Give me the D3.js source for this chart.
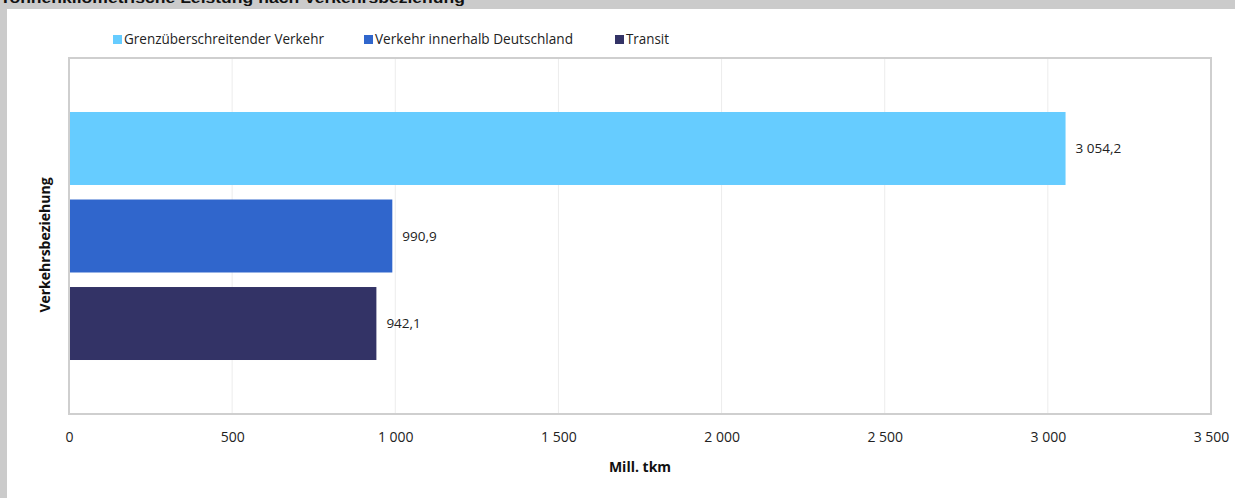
<!DOCTYPE html>
<html><head><meta charset="utf-8">
<script src="https://cdn.jsdelivr.net/npm/d3@7"></script>
<style>
html,body{margin:0;padding:0;background:#cbcbcb;}
svg{display:block;}
</style></head>
<body>
<svg id="chart" width="1235" height="498"></svg>
<script>
const title = "Tonnenkilometrische Leistung nach Verkehrsbeziehung";
const series = ["Grenzüberschreitender Verkehr", "Verkehr innerhalb Deutschland", "Transit"];
const values = [3054.2, 990.9, 942.1];
const colors = ["#66ccff", "#3066cc", "#333366"];
const xTicks = [0, 500, 1000, 1500, 2000, 2500, 3000, 3500];
const xTitle = "Mill. tkm";
const yTitle = "Verkehrsbeziehung";

const fmt = v => {
  const s = d3.format(",.1f")(v);
  return s.replace(/,/g, " ").replace(".", ",");
};
const fmtTick = v => d3.format(",")(v).replace(/,/g, " ");

const svg = d3.select("#chart");
const font = "'Open Sans', 'Noto Sans', sans-serif";

svg.append("rect").attr("x", 7).attr("y", 9).attr("width", 1228).attr("height", 489).attr("fill", "#fff");
svg.append("text").attr("x", 0).attr("y", 3).attr("font-family", "'Liberation Sans', Arial, sans-serif")
  .attr("font-weight", "bold").attr("font-size", 15).attr("fill", "#111")
  .attr("textLength", 465).attr("lengthAdjust", "spacingAndGlyphs").text(title);

const m = {l: 69, r: 1211, t: 58, b: 414};
const x = d3.scaleLinear().domain([0, 3500]).range([m.l, m.r]);
const y = d3.scaleBand().domain(series).range([m.t, m.b]).paddingInner(0.166).paddingOuter(0.617);

// gridlines
svg.append("g").selectAll("line").data(xTicks.slice(1, -1)).join("line")
  .attr("x1", d => x(d)).attr("x2", d => x(d)).attr("y1", m.t).attr("y2", m.b)
  .attr("stroke", "#ececec").attr("stroke-width", 1);

// bars
svg.append("g").selectAll("rect").data(series).join("rect")
  .attr("x", x(0)).attr("y", d => y(d)).attr("height", y.bandwidth())
  .attr("width", (d, i) => x(values[i]) - x(0)).attr("fill", (d, i) => colors[i]);

// plot frame
svg.append("rect").attr("x", m.l).attr("y", m.t).attr("width", m.r - m.l).attr("height", m.b - m.t)
  .attr("fill", "none").attr("stroke", "#cfcfcf").attr("stroke-width", 2);

// value labels
svg.append("g").selectAll("text").data(series).join("text")
  .attr("x", (d, i) => x(values[i]) + 10).attr("y", d => y(d) + y.bandwidth() / 2)
  .attr("dy", "0.35em").attr("font-family", font).attr("font-size", 13.5).attr("fill", "#222")
  .text((d, i) => fmt(values[i]));

// x axis
const xAxis = d3.axisBottom(x).tickValues(xTicks).tickFormat(fmtTick).tickSize(0).tickPadding(18);
const gx = svg.append("g").attr("transform", `translate(0,${m.b})`).call(xAxis);
gx.select(".domain").remove();
gx.selectAll("text").attr("font-family", font).attr("font-size", 14).attr("fill", "#222");

svg.append("text").attr("x", (m.l + m.r) / 2).attr("y", 472).attr("text-anchor", "middle")
  .attr("font-family", font).attr("font-weight", "bold").attr("font-size", 14).attr("fill", "#111").text(xTitle);
svg.append("text").attr("transform", `translate(50,${(m.t + m.b) / 2 + 9}) rotate(-90)`).attr("text-anchor", "middle")
  .attr("font-family", font).attr("font-weight", "bold").attr("font-size", 14).attr("fill", "#111").text(yTitle);

// legend
const legX = [113, 364, 615];
const lg = svg.append("g").selectAll("g").data(series).join("g")
  .attr("transform", (d, i) => `translate(${legX[i]},39)`);
lg.append("rect").attr("x", 0).attr("y", -4).attr("width", 9).attr("height", 9).attr("fill", (d, i) => colors[i]);
lg.append("text").attr("x", 11).attr("y", 0).attr("dy", "0.35em").attr("font-family", font)
  .attr("font-size", 14).attr("fill", "#222").attr("textLength", (d, i) => [200, 198, 43][i])
  .attr("lengthAdjust", "spacingAndGlyphs").text(d => d);
</script>
</body></html>
